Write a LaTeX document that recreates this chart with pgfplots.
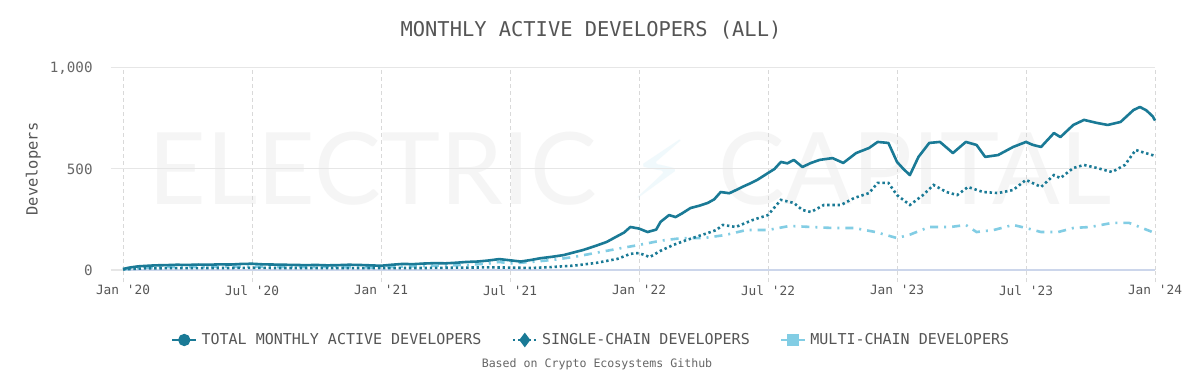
\documentclass[border=0pt]{standalone}
\usepackage{pgfplots}
\pgfplotsset{compat=1.18}
\usepackage{fontspec}
\setmainfont{DejaVu Sans Mono}
\newfontfamily\wmfont{Lato}
\newfontfamily\symfont{DejaVu Sans}
\definecolor{teal1}{RGB}{26,122,150}
\definecolor{light1}{RGB}{130,205,228}
\definecolor{txt}{RGB}{85,85,85}
\definecolor{tick}{RGB}{102,102,102}
\definecolor{gridc}{RGB}{230,230,230}
\definecolor{axc}{RGB}{204,214,235}
\begin{document}
\begin{tikzpicture}
\fill[white] (0,0) rectangle (600pt,190pt);
\useasboundingbox (0,0) rectangle (600pt,190pt);
% watermark
\node[font=\wmfont\fontsize{50}{50}\selectfont, text=black!4, inner sep=0pt] at (186.5pt,105.5pt) {ELECTRIC};
\node[font=\symfont\fontsize{40}{40}\selectfont, text=light1!12, inner sep=0pt] at (330pt,105.5pt) {⚡};
\node[font=\wmfont\fontsize{50}{50}\selectfont, text=black!4, inner sep=0pt] at (457.5pt,105.5pt) {CAPITAL};
% title
\node[font=\fontsize{10.2}{12}\selectfont, text=txt] at (295.5pt,175pt) {MONTHLY ACTIVE DEVELOPERS (ALL)};
% source
\node[font=\fontsize{5.8}{7}\selectfont, text=tick] at (298.5pt,8pt) {Based on Crypto Ecosystems Github};
\begin{axis}[
  at={(61.5pt,55pt)}, anchor=south west,
  scale only axis, width=516pt, height=101pt,
  xmin=0, xmax=48, ymin=0, ymax=1000,
  axis x line*=bottom, axis y line*=left,
  x axis line style={draw=axc, line width=0.5pt},
  y axis line style={draw=none},
  xtick={0,6,12,18,24,30,36,42,48},
  xticklabels={Jan \textquotesingle20,Jul \textquotesingle20,Jan \textquotesingle21,Jul \textquotesingle21,Jan \textquotesingle22,Jul \textquotesingle22,Jan \textquotesingle23,Jul \textquotesingle23,Jan \textquotesingle24},
  ytick={0,500,1000},
  /pgf/number format/assume math mode=true,
  /pgf/number format/1000 sep={,},
  tick align=outside,
  xmajorgrids, ymajorgrids,
  x grid style={draw=black!15, dash pattern=on 2pt off 1.5pt, line width=0.4pt},
  y grid style={draw=gridc, line width=0.5pt},
  xtick style={draw=black!15, dash pattern=on 2pt off 1.5pt, line width=0.4pt},
  ytick style={draw=gridc, line width=0.5pt},
  x tick label style={font=\fontsize{6.4}{7}\selectfont, text=txt, inner sep=0pt, yshift=-1.5pt},
  y tick label style={font=\fontsize{7.1}{8}\selectfont, text=tick, inner sep=0pt, xshift=-9pt},
  major tick length=6pt,
  ylabel={Developers},
  ylabel style={font=\fontsize{7.7}{9}\selectfont, text=txt, at={(axis description cs:-0.087,0.5)}, anchor=center},
  legend style={at={(0.4545,-0.3465)}, anchor=center, draw=none, fill=none,
    font=\fontsize{7.5}{9}\selectfont, text=txt, legend columns=-1,
    /tikz/every even column/.append style={column sep=13pt}},
  legend image code/.code={\draw[mark repeat=2,mark phase=2] plot coordinates {(0pt,0pt)(6pt,0pt)(12pt,0pt)};},
  clip=false,
]
\addlegendimage{teal1, line width=1.3pt, mark=*, mark size=2.4pt, mark options={solid}}
\addlegendentry{TOTAL MONTHLY ACTIVE DEVELOPERS}
\addlegendimage{teal1, line width=1.3pt, dash pattern=on 1.2pt off 1.4pt, mark=diamond*, mark size=2.6pt, mark options={solid}}
\addlegendentry{SINGLE-CHAIN DEVELOPERS}
\addlegendimage{light1, line width=1.3pt, dash pattern=on 4pt off 1.5pt on 1pt off 1.5pt, mark=square*, mark size=2.2pt, mark options={solid}}
\addlegendentry{MULTI-CHAIN DEVELOPERS}
% multi-chain
\addplot[forget plot, light1, line width=1.3pt, dash pattern=on 4pt off 3pt on 1pt off 3pt] coordinates {
(0,3)(1,12)(2,14)(3,15)(4,15)(5,16)(6,17)(7,15)(8,14)(9,15)(10,14)(11,13)(12,12)(13,17)(14,20)(15,22)(16,25)(17,32)(17.5,40)(18,32)(19,40)(20,50)(21,65)(22,85)(23,105)(24,124)(25,145)(26,158)(27,158)(28,173)(29,198)(30,198)(31,218)(32,213)(33,208)(34,208)(35,188)(36,158)(36.6,175)(37.5,213)(38.5,213)(39.2,223)(39.7,188)(40.5,198)(41.4,223)(42,208)(42.7,188)(43.5,188)(44.2,208)(45,213)(46,233)(46.8,233)(47.4,208)(48,183)
};
% single-chain
\addplot[forget plot, teal1, line width=1.3pt, dash pattern=on 1.2pt off 1.4pt] coordinates {
(0,3)(1,8)(2,9)(3,9)(4,10)(5,10)(6,11)(7,10)(8,10)(9,10)(10,10)(11,9)(12,9)(13,10)(14,10)(15,11)(16,12)(17,13)(18,12)(19,10)(20,15)(21,22)(22,35)(22.5,45)(23,55)(23.6,80)(24,84)(24.5,64)(25,95)(25.6,124)(26.2,148)(27.2,183)(27.6,198)(27.9,223)(28.5,213)(29.3,248)(30,272)(30.6,347)(31.2,332)(31.6,297)(32,287)(32.6,322)(33.4,322)(34,356)(34.7,381)(35.1,431)(35.6,431)(36,371)(36.6,322)(37.2,370)(37.7,421)(38.3,386)(38.8,371)(39.3,411)(40,386)(40.7,381)(41.4,396)(42,446)(42.7,411)(43.3,470)(43.6,455)(44.2,505)(44.7,520)(45.3,505)(46,485)(46.6,520)(47.1,594)(47.4,584)(48,565)
};
% total
\addplot[forget plot, teal1, line width=1.3pt, line join=round] coordinates {
(0,5)(0.3,12)(0.7,18)(1,20)(1.5,23)(2,24)(2.5,26)(3,25)(3.5,27)(4,26)(4.5,28)(5,27)(5.5,30)(6,31)(6.5,28)(7,27)(7.5,26)(8,25)(8.5,24)(9,25)(9.5,23)(10,24)(10.5,26)(11,25)(11.5,23)(12,21)(12.5,26)(13,30)(13.5,29)(14,32)(14.5,34)(15,33)(15.5,36)(16,40)(16.5,42)(17,47)(17.5,54)(18,48)(18.5,42)(19,50)(19.4,58)(20,66)(20.5,74)(21,88)(21.4,99)(22,120)(22.5,139)(23,168)(23.3,185)(23.6,213)(24,205)(24.4,188)(24.8,200)(25,238)(25.4,272)(25.7,262)(26,280)(26.4,307)(26.8,318)(27.2,332)(27.5,350)(27.8,386)(28.2,380)(28.5,395)(28.8,411)(29.2,430)(29.5,446)(30,480)(30.3,500)(30.6,535)(30.9,528)(31.2,545)(31.6,510)(32,530)(32.4,545)(33,554)(33.5,530)(34.1,579)(34.7,604)(35.1,634)(35.6,629)(36,535)(36.3,500)(36.6,470)(37,560)(37.5,629)(38,634)(38.6,579)(39.2,634)(39.7,619)(40.1,560)(40.7,569)(41.4,609)(42,634)(42.3,620)(42.7,609)(43.3,678)(43.6,658)(44.2,718)(44.7,743)(45.3,728)(45.8,718)(46.4,733)(47,792)(47.3,807)(47.6,790)(47.9,760)(48,740)
};
\end{axis}
\end{tikzpicture}
\end{document}
